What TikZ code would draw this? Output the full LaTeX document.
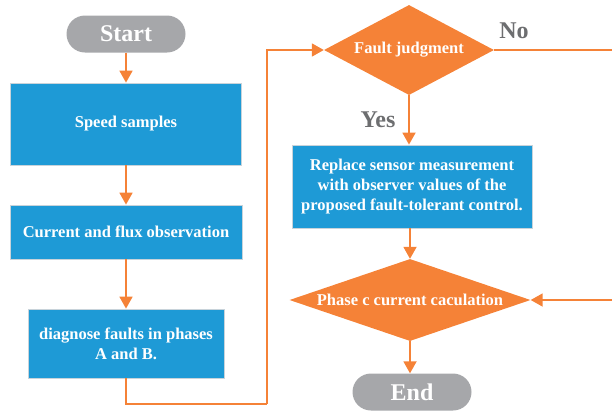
\documentclass[tikz,border=0pt]{standalone}
\usepackage{fontspec}
\setmainfont{Liberation Serif}
\definecolor{flowBlue}{RGB}{30, 154, 214}
\definecolor{flowOrange}{RGB}{245, 130, 55}
\definecolor{flowGray}{RGB}{166, 167, 170}
\definecolor{labelGray}{RGB}{109, 110, 112}
\definecolor{boxEdge}{RGB}{200, 211, 218}
\usetikzlibrary{shapes.geometric, arrows.meta, positioning}

\begin{document}
\begin{tikzpicture}[x=1pt, y=-1pt,
  every node/.style={font=\fontsize{16.5}{20}\selectfont\bfseries, text=white, align=center},
  terminal/.style={fill=flowGray, rounded corners=18.5pt, minimum width=119pt, minimum height=37pt, font=\fontsize{24}{28}\selectfont\bfseries},
  process/.style={fill=flowBlue, draw=boxEdge, line width=0.8pt},
  decision/.style={diamond, fill=flowOrange, inner sep=0pt},
  flow/.style={draw=flowOrange, line width=1.8pt, -{Triangle[length=12pt, width=13pt]}},
  line/.style={draw=flowOrange, line width=1.8pt},
  answer/.style={text=labelGray, font=\fontsize{24}{28}\selectfont\bfseries}]
  \useasboundingbox (0,0) rectangle (612,413);

  % left column
  \node[terminal] (start) at (126,34) {Start};
  \node[process, minimum width=231pt, minimum height=82pt] (speed) at (126,124) {Speed samples};
  \node[process, minimum width=232pt, minimum height=54pt] (current) at (126,232) {Current and flux observation};
  \node[process, minimum width=196pt, minimum height=69pt] (diag) at (126,343.5) {diagnose faults in phases\\A and B.};

  % right column
  \node[decision, aspect=1.89, minimum width=170pt, minimum height=90pt] (fault) at (409,50) {Fault judgment};
  \node[process, minimum width=240pt, minimum height=83pt] (replace) at (412,186.5) {Replace sensor measurement\\with observer values of the\\proposed fault-tolerant control.};
  \node[decision, aspect=2.94, minimum width=241pt, minimum height=82pt] (phase) at (410,300) {Phase c current caculation};
  \node[terminal] (end) at (412,392) {End};

  \node[answer] (no) at (514,31) {No};
  \node[answer] (yes) at (378,120) {Yes};

  \coordinate (loopB) at (267,404);
  \coordinate (noEnd) at (612,50);
  \coordinate (backIn) at (612,300);

  \draw[flow] (start) -- (speed);
  \draw[flow] (speed) -- (current);
  \draw[flow] (current) -- (diag);
  \draw[line] (diag.south) |- (loopB);
  \draw[flow] (loopB) |- (fault.west);
  \draw[line] (fault.east) -- (noEnd);
  \draw[flow] (fault.south) -- (replace.north -| fault.south);
  \draw[flow] (replace.south -| phase.north) -- (phase.north);
  \draw[flow] (backIn) -- (phase.east);
  \draw[flow] (phase.south) -- (end.north -| phase.south);
\end{tikzpicture}
\end{document}
